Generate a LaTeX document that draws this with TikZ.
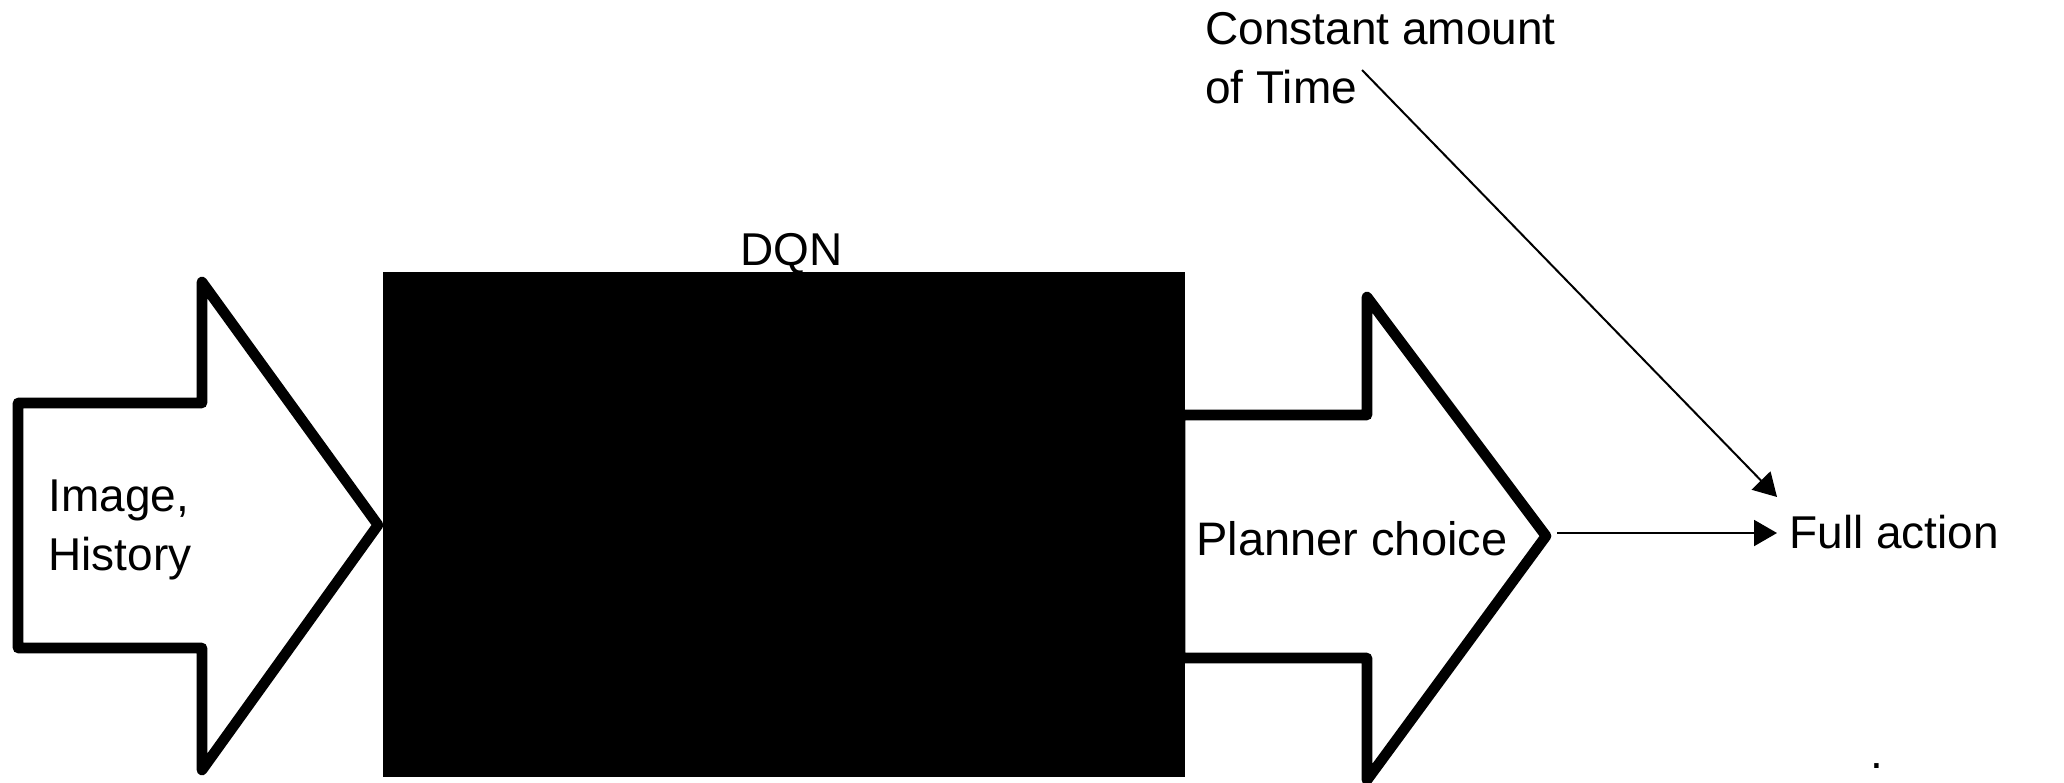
\documentclass[tikz,border=0pt]{standalone}
\usepackage{fontspec}
\setmainfont{Liberation Sans}
\usetikzlibrary{arrows.meta,calc}
\begin{document}
\begin{tikzpicture}[x=0.5pt,y=-0.5pt,
  fat/.style={line width=5.3pt, line join=round, fill=white},
  lbl/.style={inner sep=0pt, font=\fontsize{23pt}{29.5pt}\selectfont, align=left},
  link/.style={line width=1pt, -{Triangle[length=11.5pt,width=13pt]}}]
\useasboundingbox (0,0) rectangle (2064,782);
% input block arrow
\draw[fat] (18,403) -- (202,403) -- (202,282) -- (378,525) -- (202,770)
  -- (202,648) -- (18,648) -- cycle;
% output block arrow (its tail runs under the network block)
\draw[fat] (1180,415) -- (1367,415) -- (1367,297) -- (1546,536) -- (1367,780)
  -- (1367,658) -- (1180,658) -- cycle;
\coordinate (ptip) at (1557,533);
% network block
\node[fill=black, inner sep=0pt, minimum width=401pt, minimum height=252.5pt,
  anchor=north west] (dqn) at (383,272) {};
\node[lbl, anchor=base west] (dqnlabel) at (740,265) {DQN};
% texts (a two-line node sits on the baseline of its last line)
\node[lbl, anchor=base west] (input) at (48,570) {Image,\\History};
\node[lbl, anchor=base west, font=\fontsize{23.5pt}{29.5pt}\selectfont] (planner) at (1196,555) {Planner choice};
\node[lbl, anchor=base west] (ctime) at (1205,103) {Constant amount\\of Time};
\node[lbl, anchor=base west] (full) at (1789,548) {Full action};
\node[lbl, anchor=base west] (dot) at (1870,768) {.};
% connectors
\coordinate (cstart) at (1362,70);
\coordinate (cend) at (1777,497);
\draw[link] (cstart) -- (cend);
\draw[link, shorten >=6pt] (ptip) -- (ptip -| full.west);
\end{tikzpicture}
\end{document}
